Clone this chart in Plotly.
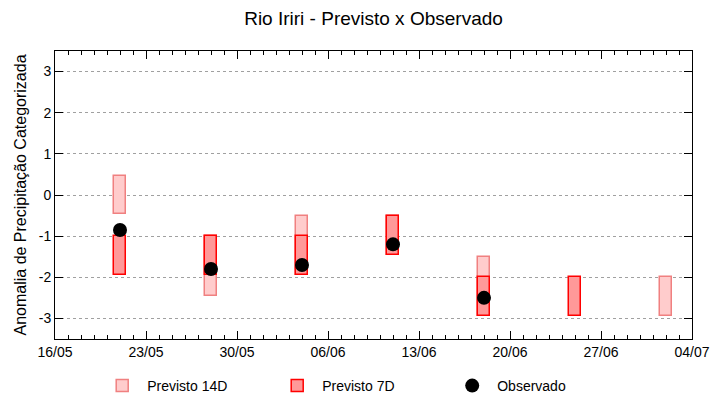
import plotly.graph_objects as go

# Data
dates_14d = ["2024-05-21", "2024-05-28", "2024-06-04", "2024-06-11", "2024-06-18", "2024-07-02"]
low_14d = [-0.45, -2.45, -1.95, -1.45, -2.95, -2.95]
high_14d = [0.45, -1.0, -0.5, -0.5, -1.5, -2.0]

dates_7d = ["2024-05-21", "2024-05-28", "2024-06-04", "2024-06-11", "2024-06-18", "2024-06-25"]
low_7d = [-1.95, -1.95, -1.95, -1.45, -2.95, -2.95]
high_7d = [-1.0, -1.0, -1.0, -0.5, -2.0, -2.0]

dates_obs = ["2024-05-21", "2024-05-28", "2024-06-04", "2024-06-11", "2024-06-18"]
obs = [-0.85, -1.8, -1.7, -1.2, -2.5]

y_ticks = [-3, -2, -1, 0, 1, 2, 3]
y_labels = ["-3", "-2", "-1", "0", "1", "2", "3"]

DAY = 86400000
FONT = "Liberation Sans, Arial, sans-serif"

fig = go.Figure()
fig.add_trace(go.Bar(
    x=dates_14d, base=low_14d, y=[h - l for h, l in zip(high_14d, low_14d)],
    width=0.9 * DAY, name="Previsto 14D",
    marker=dict(color="#ffcccc", line=dict(color="#f08080", width=1.5)),
))
fig.add_trace(go.Bar(
    x=dates_7d, base=low_7d, y=[h - l for h, l in zip(high_7d, low_7d)],
    width=0.9 * DAY, name="Previsto 7D",
    marker=dict(color="#ff9999", line=dict(color="#ff0000", width=1.5)),
))
fig.add_trace(go.Scatter(
    x=dates_obs, y=obs, mode="markers", name="Observado",
    marker=dict(color="black", size=14, symbol="circle"),
))

fig.update_layout(
    width=720, height=400,
    margin=dict(l=55, r=28, t=51, b=61, autoexpand=False),
    paper_bgcolor="white", plot_bgcolor="white",
    barmode="overlay", bargap=0,
    font=dict(family=FONT, size=14, color="black"),
    title=dict(text="Rio Iriri - Previsto x Observado", x=0.5, xanchor="center",
               xref="paper", y=0.953, yanchor="middle", font=dict(size=19, family=FONT)),
    showlegend=True,
    legend=dict(orientation="h", x=0.135, xanchor="left", xref="container",
                y=0.035, yanchor="middle", yref="container",
                font=dict(size=14), entrywidth=120, itemwidth=40,
                bgcolor="rgba(0,0,0,0)"),
)
fig.update_xaxes(
    type="date", range=["2024-05-16", "2024-07-04"],
    tick0="2024-05-16", dtick=7 * DAY, tickformat="%d/%m",
    ticks="inside", ticklen=8, tickcolor="black",
    minor=dict(dtick=DAY, ticks="inside", ticklen=4, tickcolor="black", showgrid=False),
    showline=True, linecolor="black", linewidth=1, mirror="allticks",
    showgrid=False, zeroline=False, automargin=False,
)
fig.update_yaxes(
    range=[-3.5, 3.5], tickvals=y_ticks, ticktext=y_labels,
    ticks="inside", ticklen=8, tickcolor="black",
    showline=True, linecolor="black", linewidth=1, mirror="allticks",
    showgrid=True, gridcolor="#a0a0a0", griddash="3px,3px", gridwidth=1,
    zeroline=False, automargin=False,
    title=dict(text="Anomalia de Precipitação Categorizada", font=dict(size=16), standoff=8),
)

fig.write_html(
    "out.html",
    config={"displayModeBar": False},
    post_script="document.body.style.margin='0';document.body.style.padding='0';",
)
